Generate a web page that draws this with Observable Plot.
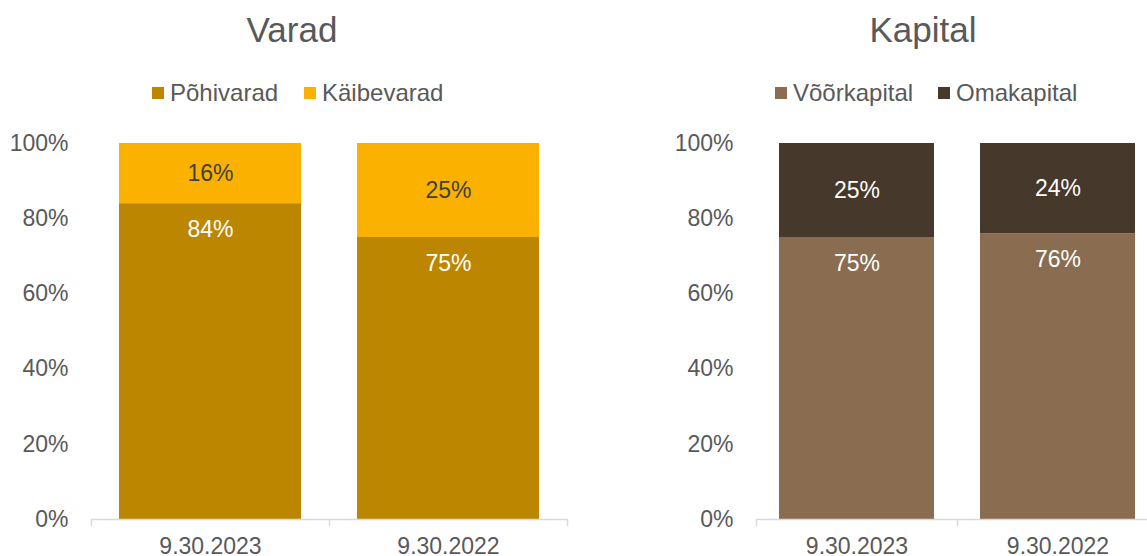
<!DOCTYPE html>
<html>
<head>
<meta charset="utf-8">
<script src="https://cdn.jsdelivr.net/npm/d3@7"></script>
<script src="https://cdn.jsdelivr.net/npm/@observablehq/plot@0.6"></script>
<style>
  html, body { margin: 0; padding: 0; background: #fff; }
  body { width: 1147px; height: 556px; overflow: hidden; position: relative; font-family: "Liberation Sans", Arial, sans-serif; color: #595959; }
  .abs { position: absolute; white-space: nowrap; }
  .title { font-size: 35px; line-height: 35px; }
  .leg { font-size: 24px; line-height: 24px; }
  .sw { position: absolute; width: 12px; height: 12px; }
</style>
</head>
<body>
<div id="root"></div>
<script>
// ---- data ----
const dates = ["9.30.2023", "9.30.2022"];
const varadSeries = ["Põhivarad", "Käibevarad"];
const pohivarad = [0.84, 0.75];
const kaibevarad = [0.16, 0.25];
const kapitalSeries = ["Võõrkapital", "Omakapital"];
const voorkapital = [0.75, 0.76];
const omakapital = [0.25, 0.24];
const yTicks = [0, 0.2, 0.4, 0.6, 0.8, 1.0];
const titles = ["Varad", "Kapital"];
const varadColors = ["#BD8600", "#FBB100"];
const kapitalColors = ["#8A6D51", "#46382B"];

function rows(series, lower, upper) {
  const out = [];
  dates.forEach((d, i) => {
    out.push({date: d, series: series[0], value: lower[i]});
    out.push({date: d, series: series[1], value: upper[i]});
  });
  return out;
}

const pct = v => Math.round(v * 100) + "%";

function panel({series, lower, upper, colors, upperText, lowerText, left, width, marginLeft, marginRight, pad}) {
  const data = rows(series, lower, upper);
  const step = (width - marginLeft - marginRight) / dates.length;
  const chart = Plot.plot({
    width, height: 436,
    marginLeft, marginRight, marginTop: 23, marginBottom: 37,
    style: {fontFamily: "Liberation Sans, Arial, sans-serif", fontSize: "23px", color: "#595959", background: "transparent", overflow: "visible"},
    x: {domain: dates, paddingInner: pad, paddingOuter: pad / 2, label: null},
    y: {domain: [0, 1], label: null},
    color: {domain: series, range: colors},
    marks: [
      Plot.barY(data, Plot.stackY({x: "date", y: "value", fill: "series", inset: 0})),
      Plot.text(data, Plot.stackY({x: "date", y: "value", text: d => d.series === series[1] ? pct(d.value) : "", fill: upperText, fontSize: 23})),
      Plot.text(data.filter(d => d.series === series[0]), {x: "date", y: "value", text: d => pct(d.value), dy: 26, fill: lowerText, fontSize: 23}),
      Plot.ruleY([0], {stroke: "#D9D9D9", strokeWidth: 1.5}),
      Plot.ruleX(dates, {x: d => d, dx: -step / 2, y1: 0, y2: -0.019, stroke: "#D9D9D9", strokeWidth: 1.5}),
      Plot.ruleX(dates.slice(-1), {x: d => d, dx: step / 2, y1: 0, y2: -0.019, stroke: "#D9D9D9", strokeWidth: 1.5}),
      Plot.axisY({ticks: yTicks, tickFormat: pct, tickSize: 0, tickPadding: 23, fontSize: 23}),
      Plot.axisX({tickSize: 0, tickPadding: 18, fontSize: 23})
    ]
  });
  chart.style.position = "absolute";
  chart.style.left = left + "px";
  chart.style.top = "120px";
  return chart;
}

const root = document.getElementById("root");
root.appendChild(panel({series: varadSeries, lower: pohivarad, upper: kaibevarad, colors: varadColors,
  upperText: "#404040", lowerText: "#ffffff", left: 0, width: 573, marginLeft: 91, marginRight: 6, pad: 0.235}));
root.appendChild(panel({series: kapitalSeries, lower: voorkapital, upper: omakapital, colors: kapitalColors,
  upperText: "#ffffff", lowerText: "#ffffff", left: 573, width: 585, marginLeft: 183, marginRight: 0, pad: 0.229}));

// titles
function addText(txt, cls, x, top, center) {
  const el = document.createElement("div");
  el.className = "abs " + cls;
  el.textContent = txt;
  el.style.top = top + "px";
  el.style.left = x + "px";
  if (center) el.style.transform = "translateX(-50%)";
  root.appendChild(el);
  return el;
}
addText(titles[0], "title", 292, 12, true);
addText(titles[1], "title", 923, 12, true);

// legends
function legendItem(label, color, sx) {
  const sw = document.createElement("div");
  sw.className = "sw";
  sw.style.left = sx + "px";
  sw.style.top = "87px";
  sw.style.background = color;
  root.appendChild(sw);
  addText(label, "leg", sx + 18, 81, false);
}
legendItem(varadSeries[0], varadColors[0], 152);
legendItem(varadSeries[1], varadColors[1], 304);
legendItem(kapitalSeries[0], kapitalColors[0], 775);
legendItem(kapitalSeries[1], kapitalColors[1], 938);
</script>
</body>
</html>
